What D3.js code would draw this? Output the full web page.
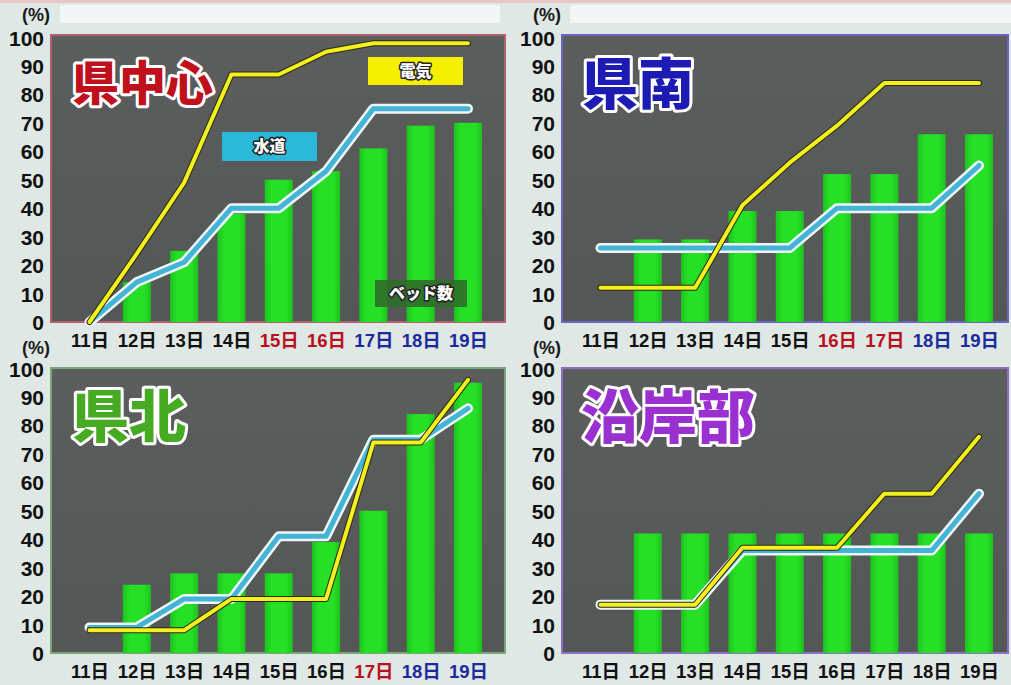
<!DOCTYPE html>
<html><head><meta charset="utf-8">
<script src="https://cdn.jsdelivr.net/npm/d3@7"></script>
<style>
html,body{margin:0;padding:0;background:#dfe8e5;}
svg{display:block;}
</style></head>
<body>
<svg id="c" width="1011" height="685"></svg>
<script>
// ---- data ----
const days = ["11日","12日","13日","14日","15日","16日","17日","18日","19日"];
const yTicks = [0,10,20,30,40,50,60,70,80,90,100];
const regions = ["県中心","県南","県北","沿岸部"];
const regionColors = ["#c0101c","#1c1cb4","#46aa22","#9a30d0"];
const borderColors = ["#b06070","#6a64c0","#78a878","#8c70c4"];
// day label colour codes: k = black, r = red, b = blue
const dayColors1 = ["k","k","k","k","r","r","b","b","b"];
const dayColors2 = ["k","k","k","k","k","r","r","b","b"];
const dayColors3 = ["k","k","k","k","k","k","r","b","b"];
const dayColors4 = ["k","k","k","k","k","k","k","k","k"];
// 県中心
const power1 = [0,24,49,87,87,95,98,98,98];
const water1 = [0,14,21,40,40,53,75,75,75];
const beds1  = [null,14,25,38,50,53,61,69,70];
// 県南
const power2 = [12,12,12,41,56,69,84,84,84];
const water2 = [26,26,26,26,26,40,40,40,55];
const beds2  = [null,29,29,39,39,52,52,66,66];
// 県北
const power3 = [8,8,8,19,19,19,74,74,96];
const water3 = [9,9,19,19,41,41,75,75,86];
const beds3  = [null,24,28,28,28,39,50,84,95];
// 沿岸部
const power4 = [17,17,17,37,37,37,56,56,76];
const water4 = [17,17,17,36,36,36,36,36,56];
const beds4  = [null,42,42,42,42,42,42,42,42];
const legendLabels = ["電気","水道","ベッド数"];

// ---- layout ----
const svg = d3.select("#c");
const colorMap = {k:"#111111", r:"#b8101e", b:"#1c2a9c"};
const panels = [
  {l:51, t:35, r:505, b:322, title:0, power:power1, water:water1, beds:beds1, dc:dayColors1, tx:72, ty:100, fs:47},
  {l:562,t:35, r:1008,b:322, title:1, power:power2, water:water2, beds:beds2, dc:dayColors2, tx:582, ty:104, fs:56},
  {l:51, t:368,r:505, b:653, title:2, power:power3, water:water3, beds:beds3, dc:dayColors3, tx:72, ty:437, fs:57},
  {l:562,t:368,r:1008,b:653, title:3, power:power4, water:water4, beds:beds4, dc:dayColors4, tx:581, ty:438, fs:58}
];

const defs = svg.append("defs");
const g1 = defs.append("linearGradient").attr("id","barg").attr("x1",0).attr("x2",1).attr("y1",0).attr("y2",0);
g1.append("stop").attr("offset","0%").attr("stop-color","#1cc41c");
g1.append("stop").attr("offset","25%").attr("stop-color","#26e026");
g1.append("stop").attr("offset","75%").attr("stop-color","#26e026");
g1.append("stop").attr("offset","100%").attr("stop-color","#1cc41c");
const g2 = defs.append("linearGradient").attr("id","bgg").attr("x1",0).attr("x2",0).attr("y1",0).attr("y2",1);
g2.append("stop").attr("offset","0%").attr("stop-color","#5c5e5e");
g2.append("stop").attr("offset","100%").attr("stop-color","#555757");

// top decoration strips
svg.append("rect").attr("x",0).attr("y",0).attr("width",1011).attr("height",3).attr("fill","#e6c6c8");
svg.append("rect").attr("x",60).attr("y",5).attr("width",440).attr("height",18).attr("fill","#f2f6f6");
svg.append("rect").attr("x",570).attr("y",5).attr("width",441).attr("height",18).attr("fill","#f2f6f6");

const numFont = "'Liberation Sans', Arial, 'Noto Sans CJK JP', sans-serif";
const jpFont = "'Noto Sans CJK JP', 'Liberation Sans', sans-serif";

panels.forEach((p, pi) => {
  const x = d3.scalePoint().domain(days).range([p.l + 38.5, p.l + 417]);
  const y = d3.scaleLinear().domain([0,100]).range([p.b, p.b - 284.5]);
  const g = svg.append("g");

  // plot background
  g.append("rect").attr("x",p.l).attr("y",p.t).attr("width",p.r-p.l).attr("height",p.b-p.t)
    .attr("fill","url(#bgg)").attr("stroke",borderColors[pi]).attr("stroke-width",2);

  // y axis
  const yAxis = d3.axisLeft(y).tickValues(yTicks).tickSize(0).tickPadding(0);
  const ya = g.append("g").attr("transform",`translate(${p.l-7},0)`).call(yAxis);
  ya.select(".domain").remove();
  ya.selectAll("text").attr("font-family",numFont).attr("font-weight","bold")
    .attr("font-size",21).attr("fill","#111").attr("dy","0.36em");
  g.append("text").attr("x",p.l-15).attr("y",p.t-14).attr("text-anchor","middle")
    .attr("font-family",numFont).attr("font-weight","bold").attr("font-size",18).attr("fill","#1a1a1a").text("(%)");

  // x axis
  const xAxis = d3.axisBottom(x).tickSize(0).tickPadding(0);
  const xa = g.append("g").attr("transform",`translate(0,${p.b+25})`).call(xAxis);
  xa.select(".domain").remove();
  xa.selectAll("text").attr("font-family",numFont).attr("font-weight","bold")
    .attr("font-size",18.5).attr("dy","0")
    .attr("fill",(d,i)=>colorMap[p.dc[i]]);

  // bars
  g.append("g").selectAll("rect").data(days.map((d,i)=>({d, v:p.beds[i]})).filter(o=>o.v!=null))
    .join("rect")
    .attr("x",o=>x(o.d)-14).attr("width",28)
    .attr("y",o=>y(o.v)).attr("height",o=>y(0)-y(o.v))
    .attr("fill","url(#barg)");

  // title
  g.append("text").attr("x",p.tx).attr("y",p.ty)
    .attr("font-family",jpFont).attr("font-weight","900").attr("font-size",p.fs)
    .attr("fill",regionColors[pi]).attr("stroke","#ffffff").attr("stroke-width",6)
    .attr("stroke-linejoin","round").attr("paint-order","stroke").text(regions[p.title]);

  const line = d3.line().x((v,i)=>x(days[i])).y(v=>y(v));
  // water line
  g.append("path").attr("d",line(p.water)).attr("fill","none").attr("stroke","#eef6f8")
    .attr("stroke-width",10).attr("stroke-linejoin","round").attr("stroke-linecap","round");
  g.append("path").attr("d",line(p.water)).attr("fill","none").attr("stroke","#44b4d6")
    .attr("stroke-width",5).attr("stroke-linejoin","round").attr("stroke-linecap","round");
  // power line
  g.append("path").attr("d",line(p.power)).attr("fill","none").attr("stroke","#2a2a10")
    .attr("stroke-width",6).attr("stroke-linejoin","round").attr("stroke-linecap","round");
  g.append("path").attr("d",line(p.power)).attr("fill","none").attr("stroke","#f2f01e")
    .attr("stroke-width",4).attr("stroke-linejoin","round").attr("stroke-linecap","round");

  // legend labels (only first panel)
  if (pi === 0) {
    const leg = [
      {t:legendLabels[0], x:368, y:57, w:95, h:28, c:"#f4f000"},
      {t:legendLabels[1], x:222, y:132, w:95, h:29, c:"#2cb8d8"},
      {t:legendLabels[2], x:375, y:280, w:92, h:27, c:"#2f6e2a"}
    ];
    leg.forEach(o=>{
      g.append("rect").attr("x",o.x).attr("y",o.y).attr("width",o.w).attr("height",o.h).attr("fill",o.c)
        .attr("opacity", o.t===legendLabels[2]?0.9:1);
      g.append("text").attr("x",o.x+o.w/2).attr("y",o.y+o.h/2).attr("dy","0.36em").attr("text-anchor","middle")
        .attr("font-family",jpFont).attr("font-weight","900").attr("font-size",16)
        .attr("fill","#ffffff").attr("stroke","#222").attr("stroke-width",3).attr("stroke-linejoin","round")
        .attr("paint-order","stroke").text(o.t);
    });
  }
});
</script>
</body></html>
